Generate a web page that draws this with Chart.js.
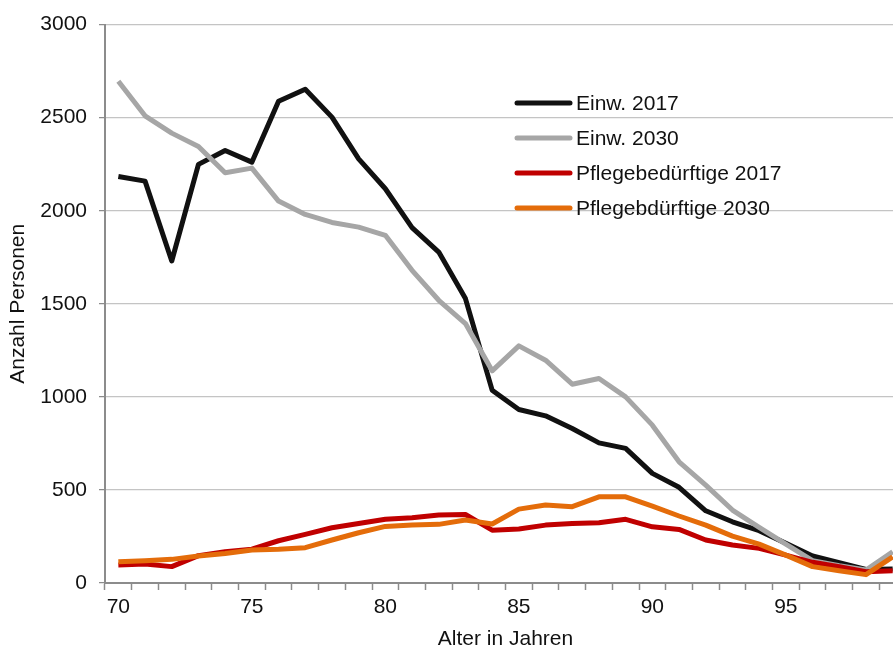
<!DOCTYPE html>
<html lang="de">
<head>
<meta charset="utf-8">
<title>Einwohner und Pflegebedürftige nach Alter</title>
<script src="https://cdn.jsdelivr.net/npm/chart.js@4.4.1/dist/chart.umd.min.js"></script>
<style>
  html, body { margin: 0; padding: 0; background: #fff; overflow: hidden; }
  #wrap { width: 893px; height: 650px; overflow: hidden; }
</style>
</head>
<body>
<div id="wrap">
  <canvas id="myChart" width="906" height="650"></canvas>
</div>
<script>
// Alter (Kategorien)
const ages = [70, 71, 72, 73, 74, 75, 76, 77, 78, 79,
              80, 81, 82, 83, 84, 85, 86, 87, 88, 89,
              90, 91, 92, 93, 94, 95, 96, 97, 98, 99];
const shownAges = [70, 75, 80, 85, 90, 95];
const yTicks = [0, 500, 1000, 1500, 2000, 2500, 3000];

const einw2017 = [2184, 2159, 1730, 2249, 2324, 2261, 2588, 2653, 2503, 2279,
                  2118, 1909, 1778, 1528, 1036, 932, 898, 830, 753, 723,
                  589, 514, 388, 329, 281, 213, 145, 109, 73, 75];
const einw2030 = [2696, 2510, 2417, 2345, 2204, 2229, 2052, 1980, 1937, 1912,
                  1868, 1680, 1519, 1394, 1140, 1274, 1197, 1068, 1099, 1000,
                  848, 651, 526, 392, 299, 209, 120, 93, 70, 168];
const pflege2017 = [97, 102, 88, 147, 168, 182, 227, 261, 297, 320,
                    342, 351, 365, 368, 284, 290, 311, 320, 324, 342,
                    302, 288, 231, 204, 186, 150, 111, 88, 61, 66];
const pflege2030 = [114, 120, 127, 145, 159, 177, 181, 190, 231, 270,
                    304, 311, 315, 338, 317, 397, 419, 410, 463, 463,
                    413, 360, 311, 252, 209, 150, 88, 66, 45, 140];

const fontFam = '"Liberation Sans", Arial, sans-serif';
const fontSize = 21;

// legend drawn inside the plot, like the original
const innerLegend = {
    id: 'innerLegend',
    afterDraw(chart) {
        const c = chart.ctx;
        c.save();
        c.font = fontSize + 'px ' + fontFam;
        c.textBaseline = 'middle';
        c.fillStyle = '#111';
        chart.data.datasets.forEach(function(ds, i){
            const y = 103 + i * 35;
            c.strokeStyle = ds.borderColor;
            c.lineWidth = 5;
            c.lineCap = 'round';
            c.beginPath();
            c.moveTo(517, y);
            c.lineTo(570, y);
            c.stroke();
            c.fillText(ds.label, 576, y + 1);
        });
        c.restore();
    }
};

function line(label, data, color, order){
    return {
        label: label,
        data: data,
        borderColor: color,
        backgroundColor: color,
        borderWidth: 5,
        pointRadius: 0,
        tension: 0,
        borderJoinStyle: 'round',
        order: order
    };
}

let ctx = document.getElementById('myChart').getContext('2d');
let myChart = new Chart(ctx, {
    type: 'line',
    data: {
        labels: ages,
        datasets: [
            line('Einw. 2017', einw2017, '#111111', 4),
            line('Einw. 2030', einw2030, '#a6a6a6', 3),
            line('Pflegebedürftige 2017', pflege2017, '#c00000', 2),
            line('Pflegebdürftige 2030', pflege2030, '#e46c0a', 1)
        ]
    },
    options: {
        responsive: false,
        animation: false,
        devicePixelRatio: 1,
        layout: { padding: { top: 24, right: 0, bottom: 0, left: 0 } },
        plugins: {
            legend: { display: false },
            tooltip: { enabled: false }
        },
        scales: {
            x: {
                type: 'category',
                offset: true,
                grid: {
                    offset: true,
                    drawOnChartArea: false,
                    drawTicks: true,
                    tickLength: 7,
                    tickColor: '#8c8c8c',
                    tickWidth: 1.5
                },
                border: { color: '#8c8c8c', width: 2 },
                ticks: {
                    autoSkip: false,
                    maxRotation: 0,
                    padding: 5,
                    color: '#111',
                    font: { family: fontFam, size: fontSize },
                    callback: function(value, index){
                        const a = ages[index];
                        return shownAges.includes(a) ? String(a) : '';
                    }
                },
                title: {
                    display: true,
                    text: 'Alter in Jahren',
                    color: '#111',
                    font: { family: fontFam, size: fontSize, lineHeight: 1 },
                    padding: { top: 0, bottom: 0 }
                },
                afterFit: function(scale){ scale.height = 67; }
            },
            y: {
                min: 0,
                max: 3000,
                afterBuildTicks: function(scale){
                    scale.ticks = yTicks.map(function(v){ return { value: v }; });
                },
                grid: {
                    color: '#c4c4c4',
                    lineWidth: 1.25,
                    tickLength: 6,
                    tickColor: '#8c8c8c'
                },
                border: { color: '#8c8c8c', width: 2 },
                ticks: {
                    padding: 12,
                    color: '#111',
                    font: { family: fontFam, size: fontSize },
                    callback: function(value){ return String(value); }
                },
                title: {
                    display: true,
                    text: 'Anzahl Personen',
                    color: '#111',
                    font: { family: fontFam, size: fontSize, lineHeight: 1 },
                    padding: { top: 8, bottom: 0 }
                },
                afterFit: function(scale){ scale.width = 105; }
            }
        }
    },
    plugins: [innerLegend]
});
</script>
</body>
</html>
